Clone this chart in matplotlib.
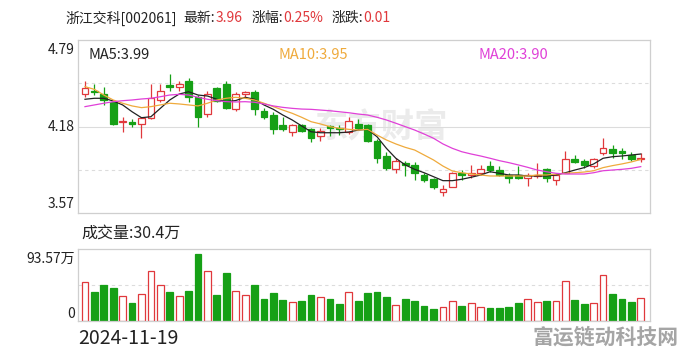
import matplotlib
matplotlib.use("Agg")
import matplotlib.pyplot as plt
import numpy as np

plt.rcParams['font.family'] = ['Noto Sans CJK SC', 'DejaVu Sans']

# daily k-line
opens = [4.41, 4.43, 4.41, 4.35, 4.21, 4.21, 4.20, 4.24, 4.37, 4.47,
         4.46, 4.50, 4.39, 4.27, 4.45, 4.48, 4.30, 4.41, 4.42, 4.29,
         4.26, 4.19, 4.14, 4.19, 4.16, 4.11, 4.18, 4.17, 4.14, 4.20,
         4.19, 4.08, 3.97, 3.88, 3.92, 3.91, 3.84, 3.81, 3.72, 3.75,
         3.85, 3.84, 3.85, 3.90, 3.87, 3.84, 3.84, 3.82, 3.83, 3.88,
         3.80, 3.85, 3.95, 3.94, 3.90, 3.99, 4.02, 4.01, 3.98, 3.95]
highs = [4.50, 4.48, 4.46, 4.36, 4.25, 4.23, 4.25, 4.48, 4.48, 4.55,
         4.50, 4.52, 4.40, 4.43, 4.46, 4.50, 4.42, 4.43, 4.44, 4.31,
         4.28, 4.25, 4.20, 4.20, 4.17, 4.17, 4.19, 4.19, 4.25, 4.23,
         4.20, 4.09, 4.00, 3.96, 3.94, 3.93, 3.85, 3.82, 3.77, 3.86,
         3.87, 3.91, 3.91, 3.94, 3.90, 3.85, 3.90, 3.85, 3.92, 3.89,
         3.85, 4.01, 3.98, 3.95, 3.96, 4.10, 4.05, 4.03, 4.00, 3.99]
lows = [4.39, 4.40, 4.33, 4.19, 4.14, 4.18, 4.10, 4.23, 4.35, 4.43,
        4.43, 4.35, 4.18, 4.25, 4.35, 4.30, 4.29, 4.39, 4.26, 4.23,
        4.13, 4.15, 4.11, 4.14, 4.07, 4.08, 4.11, 4.12, 4.13, 4.16,
        4.07, 3.92, 3.87, 3.85, 3.83, 3.80, 3.79, 3.74, 3.69, 3.75,
        3.80, 3.82, 3.84, 3.86, 3.83, 3.78, 3.81, 3.76, 3.82, 3.79,
        3.77, 3.85, 3.92, 3.89, 3.89, 3.98, 3.96, 3.95, 3.94, 3.93]
closes = [4.45, 4.42, 4.37, 4.20, 4.22, 4.20, 4.24, 4.38, 4.43, 4.46,
          4.48, 4.39, 4.25, 4.41, 4.36, 4.31, 4.41, 4.42, 4.30, 4.25,
          4.16, 4.16, 4.19, 4.15, 4.10, 4.15, 4.17, 4.16, 4.22, 4.17,
          4.08, 3.96, 3.89, 3.94, 3.91, 3.85, 3.80, 3.75, 3.74, 3.85,
          3.84, 3.85, 3.88, 3.87, 3.84, 3.82, 3.82, 3.84, 3.84, 3.82,
          3.84, 3.95, 3.93, 3.91, 3.95, 4.03, 3.99, 3.99, 3.95, 3.96]
# volume in 万手
volumes = [50.3, 37.7, 46.8, 42.9, 32.1, 23.4, 34.7, 64.6, 46.4, 37.7,
           32.1, 39.0, 87.1, 64.6, 33.4, 62.4, 39.0, 33.4, 46.8, 28.6,
           36.8, 26.9, 24.7, 26.0, 33.4, 31.2, 28.2, 22.1, 37.3, 26.0,
           36.8, 37.7, 31.2, 20.4, 28.6, 26.0, 19.5, 15.6, 17.8, 26.0,
           19.5, 23.0, 17.8, 16.9, 16.9, 18.2, 23.0, 28.2, 24.7, 26.0,
           26.0, 51.6, 27.3, 22.1, 23.4, 59.4, 35.1, 28.2, 24.7, 30.4]
ma5 = [4.372, 4.379, 4.379, 4.360, 4.332, 4.284, 4.242, 4.249, 4.308, 4.367,
       4.409, 4.425, 4.402, 4.395, 4.372, 4.355, 4.363, 4.386, 4.372, 4.332,
       4.301, 4.261, 4.226, 4.184, 4.143, 4.136, 4.136, 4.136, 4.141, 4.155,
       4.160, 4.108, 4.026, 3.956, 3.909, 3.878, 3.854, 3.826, 3.798, 3.798,
       3.808, 3.822, 3.838, 3.861, 3.850, 3.838, 3.838, 3.831, 3.831, 3.831,
       3.838, 3.854, 3.873, 3.890, 3.916, 3.956, 3.967, 3.972, 3.979, 3.986]
ma10 = [4.461, 4.442, 4.402, 4.367, 4.344, 4.325, 4.313, 4.320, 4.332, 4.344,
        4.339, 4.332, 4.325, 4.344, 4.367, 4.379, 4.386, 4.379, 4.367, 4.344,
        4.320, 4.296, 4.273, 4.245, 4.214, 4.198, 4.179, 4.167, 4.160, 4.155,
        4.160, 4.120, 4.085, 4.057, 4.033, 4.014, 3.979, 3.944, 3.901, 3.866,
        3.854, 3.845, 3.838, 3.831, 3.831, 3.831, 3.831, 3.831, 3.838, 3.838,
        3.845, 3.850, 3.854, 3.859, 3.868, 3.890, 3.904, 3.916, 3.930, 3.948]
ma20 = [4.320, 4.332, 4.344, 4.355, 4.362, 4.367, 4.374, 4.379, 4.390, 4.402,
        4.407, 4.402, 4.386, 4.372, 4.362, 4.355, 4.353, 4.355, 4.351, 4.339,
        4.325, 4.315, 4.308, 4.303, 4.301, 4.296, 4.291, 4.284, 4.277, 4.268,
        4.261, 4.245, 4.226, 4.203, 4.179, 4.155, 4.127, 4.097, 4.057, 4.026,
        4.002, 3.986, 3.972, 3.956, 3.939, 3.925, 3.909, 3.892, 3.873, 3.861,
        3.850, 3.845, 3.845, 3.845, 3.854, 3.868, 3.873, 3.878, 3.885, 3.897]

first_date = "2024-11-19"
price_ticks = [3.57, 4.18, 4.79]
vol_max = 93.57
pct_change = 0.25

UP = '#e0383c'
DOWN = '#16a016'
GRID = '#dcdcdc'
FRAME = '#cfcfcf'
DARK = '#222222'

W, H = 684, 356
fig = plt.figure(figsize=(W / 100, H / 100), dpi=100)


def box(l, t, r, b):
    return [l / W, 1 - b / H, (r - l) / W, (b - t) / H]


ax = fig.add_axes(box(78, 40, 650, 213))
axv = fig.add_axes(box(78, 249, 650, 321))

o = np.array(opens)
c = np.array(closes)
x = np.arange(len(o))
up = c >= o
bw = 0.72

# k-line
ax.vlines(x[up], np.array(lows)[up], np.array(highs)[up], color=UP, lw=0.9, zorder=3)
ax.vlines(x[~up], np.array(lows)[~up], np.array(highs)[~up], color=DOWN, lw=0.9, zorder=3)
ax.bar(x[up], (c - o)[up], bottom=o[up], width=bw, facecolor='white',
       edgecolor=UP, lw=0.9, zorder=4)
ax.bar(x[~up], (o - c)[~up], bottom=c[~up], width=bw, facecolor=DOWN,
       edgecolor=DOWN, lw=0.9, zorder=4)

ax.plot(x, ma5, color=DARK, lw=0.9, zorder=5)
ax.plot(x, ma10, color='#efaa3c', lw=0.9, zorder=5)
ax.plot(x, ma20, color='#e040d8', lw=0.9, zorder=5)

lo, hi = price_ticks[0], price_ticks[-1]
ax.set_ylim(lo, hi)
ax.set_xlim(-0.74, 59.98)
ax.axhline(price_ticks[1], color=GRID, lw=0.8, zorder=1)
for q in (0.25, 0.75):
    ax.axhline(lo + (hi - lo) * q, color=GRID, lw=0.8, ls=(0, (3, 3)), zorder=1)

ax.text(0.53, 0.49, '东方财富', transform=ax.transAxes, ha='center', va='center',
        fontsize=24, fontweight='bold', color='#ebebeb', zorder=0)

# volume
axv.bar(x[up], np.array(volumes)[up], width=bw, facecolor='white', edgecolor=UP, lw=0.9)
axv.bar(x[~up], np.array(volumes)[~up], width=bw, facecolor=DOWN, edgecolor=DOWN, lw=0.9)
axv.set_ylim(0, vol_max)
axv.set_xlim(-0.74, 59.98)
axv.axhline(vol_max / 2, color=GRID, lw=0.8, ls=(0, (3, 3)), zorder=0)

for a in (ax, axv):
    a.set_xticks([])
    a.set_yticks([])
    for s in a.spines.values():
        s.set_color(FRAME)
        s.set_linewidth(0.9)

# y labels
lab = dict(ha='right', va='center', fontsize=10, color=DARK)
fig.text(75 / W, 1 - 50 / H, f'{price_ticks[2]:.2f}', **lab)
fig.text(75 / W, 1 - 127 / H, f'{price_ticks[1]:.2f}', **lab)
fig.text(75 / W, 1 - 204 / H, f'{price_ticks[0]:.2f}', **lab)
fig.text(75 / W, 1 - 259 / H, f'{vol_max:.2f}万', **lab)
fig.text(75 / W, 1 - 314 / H, '0', **lab)

# title, pieces chained one after another
parts = [('浙江交科[002061]', DARK, 0), ('最新:', DARK, 7), (f'{closes[-1]:.2f}', UP, 0),
         ('涨幅:', DARK, 9), (f'{pct_change:.2f}%', UP, 0), ('涨跌:', DARK, 9),
         (f'{closes[-1] - closes[-2]:.2f}', UP, 0)]
prev = fig.text(65 / W, 1 - 18 / H, parts[0][0], va='center', ha='left',
                fontsize=10, color=parts[0][1])
for t, col, gap in parts[1:]:
    prev = ax.annotate(t, xy=(1, 0.5), xycoords=prev, xytext=(gap, 0),
                       textcoords='offset pixels', va='center', ha='left',
                       fontsize=10, color=col, annotation_clip=False)

fig.text(88 / W, 1 - 55 / H, f'MA5:{ma5[-1]:.2f}', va='center', fontsize=10.5, color=DARK)
fig.text(278 / W, 1 - 55 / H, f'MA10:{ma10[-1]:.2f}', va='center', fontsize=10.5, color='#efaa3c')
fig.text(478 / W, 1 - 55 / H, f'MA20:{ma20[-1]:.2f}', va='center', fontsize=10.5, color='#e040d8')

fig.text(81 / W, 1 - 233 / H, f'成交量:{volumes[-1]:.1f}万', va='center', fontsize=11.5, color=DARK)
fig.text(78 / W, 1 - 339 / H, first_date, va='center', fontsize=14, color=DARK)
fig.text(679 / W, 1 - 337 / H, '富运链动科技网', va='center', ha='right', fontsize=15,
         fontweight='bold', color='#a5a5a5')

fig.savefig('out.png', dpi=100)
